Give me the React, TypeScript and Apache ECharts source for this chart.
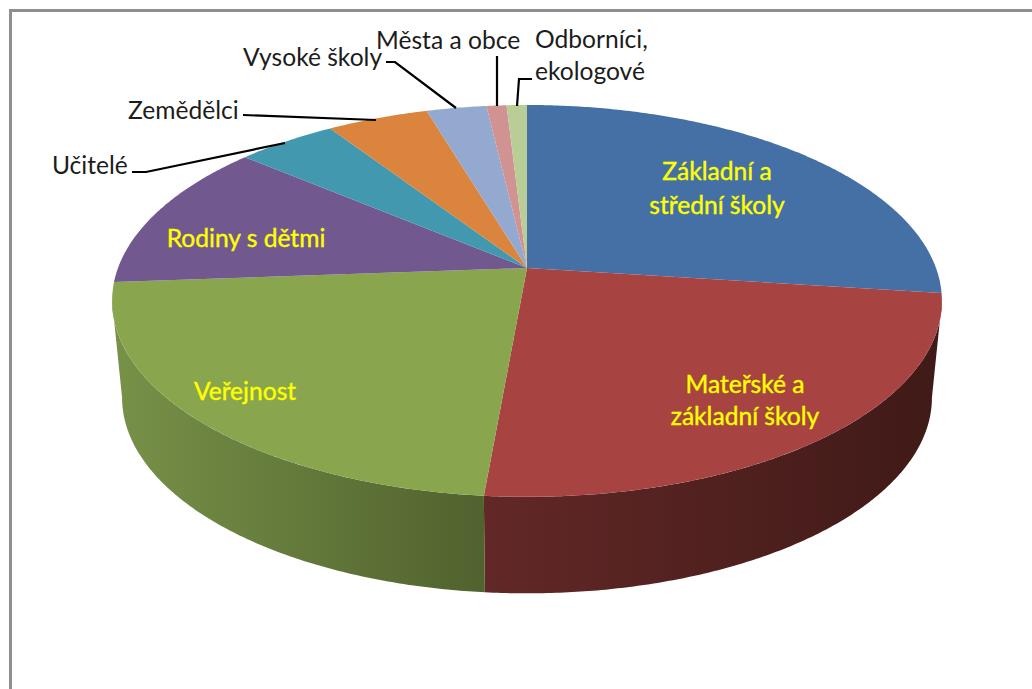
import React, { useEffect, useRef } from "react";
import * as echarts from "echarts";

const categories = ["Základní a střední školy", "Mateřské a základní školy", "Veřejnost", "Rodiny s dětmi", "Učitelé", "Zemědělci", "Vysoké školy", "Města a obce", "Odborníci, ekologové"];
const values = [27.05, 24.35, 22.45, 12.3, 4.6, 4.65, 2.75, 0.92, 0.93];
const topColors = ["#4470A6", "#A74442", "#89A54E", "#71588F", "#4198AF", "#DB843D", "#93A9CF", "#D19392", "#B9CD96"];
const wallColors: (string[] | null)[] = [null, ["#622827", "#3F1A17"], ["#789148", "#50622E"], null, null, null, null, null, null];

const labelTexts = ["Základní a\nstřední školy", "Mateřské a\nzákladní školy", "Veřejnost", "Rodiny s dětmi", "Učitelé", "Zemědělci", "Vysoké školy", "Města a obce", "Odborníci,\nekologové"];
const labelSpots = [[717, 187, "center", 34], [745, 399, "center", 32], [245, 390, "center", 30], [246, 237, "center", 30], [52, 164, "left", 30], [128, 109, "left", 30], [243, 56, "left", 30], [376, 39, "left", 30], [535, 54, "left", 32]];
const leaderLines = [
  [[132, 172], [146, 172], [285, 143]],
  [[243, 115], [376, 120]],
  [[386, 62], [395, 62], [456, 108]],
  [[497, 56], [497, 106]],
  [[532, 79], [519, 79], [517, 106]],
];

const CX = 527, CY = 268, A = 409, B = 190.4, K = 0.168, DEPTH = 96.5, SHRINK = 0.976;
const WALL_FROM = 99.7, WALL_TO = 260.3;
const rad = (t: number) => (t * Math.PI) / 180;
const topPoint = (t: number) => {
  const u = Math.sin(rad(t)), v = Math.cos(rad(t)), w = 1 + K * v;
  return [CX + (A * u) / w, CY - (B * v) / w];
};
const bottomPoint = (t: number) => {
  const p = topPoint(t);
  return [CX + (p[0] - CX) * SHRINK, p[1] + DEPTH];
};
const arc = (from: number, to: number, f: (t: number) => number[]) => {
  const n = Math.max(2, Math.ceil((to - from) / 0.5));
  const out: number[][] = [];
  for (let i = 0; i <= n; i++) out.push(f(from + ((to - from) * i) / n));
  return out;
};

export default function App() {
  const ref = useRef<HTMLDivElement>(null);
  useEffect(() => {
    const chart = echarts.init(ref.current!, null, { renderer: "svg" });
    const total = values.reduce((a, b) => a + b, 0);
    const renderItem = (params: any, api: any) => {
      const i = params.dataIndex;
      const before = values.slice(0, i).reduce((a, b) => a + b, 0);
      const from = (before / total) * 360;
      const to = from + (api.value(1) / total) * 360;
      const children: any[] = [];
      const wall = wallColors[i];
      if (wall) {
        const wf = Math.max(from, WALL_FROM), wt = Math.min(to, WALL_TO);
        children.push({
          type: "polygon",
          shape: { points: [...arc(wf, wt, topPoint), ...arc(wf, wt, bottomPoint).reverse()] },
          style: {
            fill: new echarts.graphic.LinearGradient(0, 0, 1, 0, [
              { offset: 0, color: wall[0] },
              { offset: 1, color: wall[1] },
            ]),
          },
        });
      }
      children.push({
        type: "polygon",
        shape: { points: [[CX, CY], ...arc(from, to, topPoint)] },
        style: { fill: topColors[i] },
      });
      return { type: "group", children };
    };
    const textEls = labelTexts.map((t, i) => {
      const s = labelSpots[i] as any[];
      const accent = i < 4;
      return {
        type: "text",
        x: s[0],
        y: s[1],
        z: 10,
        style: {
          text: t,
          fill: accent ? "#FFFF00" : "#1c1c1c",
          fontFamily: "Lato",
          fontSize: 24.6,
          fontWeight: 400,
          align: s[2],
          verticalAlign: "middle",
          lineHeight: s[3],
          ...(accent ? { stroke: "#FFFF00", lineWidth: 0.4 } : {}),
        },
      };
    });
    chart.setOption({
      animation: false,
      backgroundColor: "#ffffff",
      series: [
        {
          type: "custom",
          coordinateSystem: "none",
          silent: true,
          clip: false,
          data: categories.map((c, i) => ({ name: c, value: [i, values[i]] })),
          renderItem,
        },
      ],
      graphic: [
        { type: "rect", z: 5, shape: { x: 9, y: 9, width: 1040, height: 3 }, style: { fill: "#8F8F8F" } },
        { type: "rect", z: 5, shape: { x: 9, y: 9, width: 3, height: 700 }, style: { fill: "#8F8F8F" } },
        ...leaderLines.map((pts) => ({
          type: "polyline",
          z: 6,
          shape: { points: pts },
          style: { stroke: "#000000", lineWidth: 2.2, fill: "none" },
        })),
        ...textEls,
      ],
    });
    return () => chart.dispose();
  }, []);
  return <div ref={ref} style={{ position: "fixed", left: 0, top: 0, width: 1032, height: 689 }} />;
}
